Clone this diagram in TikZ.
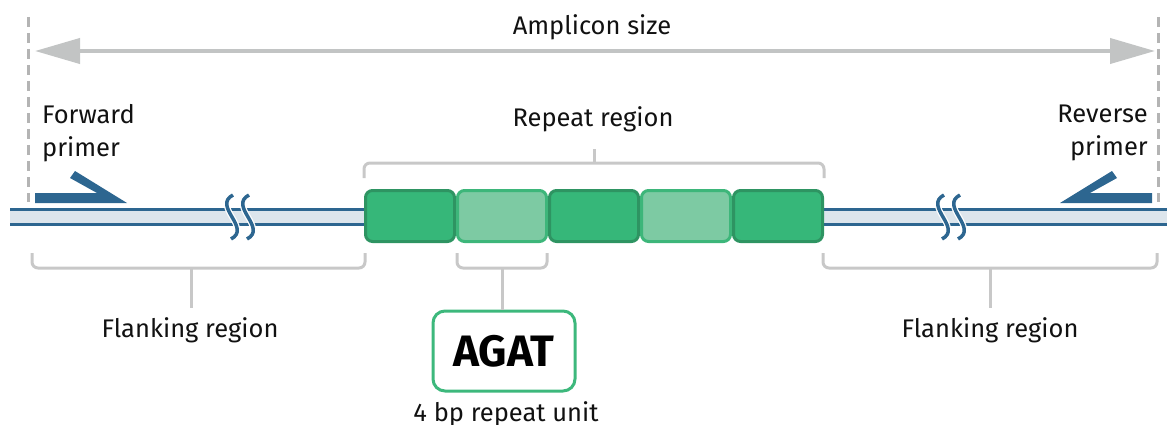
\documentclass[tikz,border=0pt]{standalone}
\usepackage{fontspec}
\setmainfont{Fira Sans}
\usetikzlibrary{arrows.meta}
\definecolor{txt}{HTML}{111111}
\definecolor{arrgray}{HTML}{C2C4C4}
\definecolor{brgray}{HTML}{C8C8C8}
\definecolor{dashgray}{HTML}{B4B4B4}
\definecolor{dnablue}{HTML}{2D6690}
\definecolor{dnafill}{HTML}{DCE5EC}
\definecolor{gdark}{HTML}{36B779}
\definecolor{gdarkb}{HTML}{2E9462}
\definecolor{glight}{HTML}{7DCAA3}
\definecolor{glightb}{HTML}{3DB67A}
\definecolor{agat}{HTML}{3DB87C}
\tikzset{
  lbl/.style={text=txt, font=\fontsize{25.5}{33}\selectfont, inner sep=0pt},
  bracket/.style={draw=brgray, line width=3pt, rounded corners=6pt},
  dashv/.style={draw=dashgray, line width=3pt, dash pattern=on 10pt off 6pt},
  dnaline/.style={draw=dnablue, line width=3pt},
  darkbox/.style={draw=gdarkb, fill=gdark, line width=3pt, rounded corners=7pt, minimum width=89pt, minimum height=51pt, inner sep=0pt},
  lightbox/.style={draw=glightb, fill=glight, line width=3pt, rounded corners=7pt, minimum width=89pt, minimum height=51pt, inner sep=0pt},
  brk/.style={draw=dnablue, line width=3.5pt},
  brkw/.style={draw=white, line width=6pt},
  primer/.style={fill=dnablue},
}
\begin{document}
\begin{tikzpicture}[x=1pt,y=-1pt]
\useasboundingbox (0,0) rectangle (1167,425);
% amplicon size
\coordinate (dlt) at (28,17);
\coordinate (dlb) at (28,202);
\coordinate (drt) at (1158,17);
\coordinate (drb) at (1158,202);
\draw[dashv] (dlt) -- (dlb);
\draw[dashv] (drt) -- (drb);
\coordinate (al) at (35,51);
\coordinate (ar) at (1155,51);
\draw[draw=arrgray, line width=4pt, {Triangle[length=45pt,width=25pt]}-{Triangle[length=45pt,width=25pt]}] (al) -- (ar);
\node[lbl] (amp) at (592,27) {Amplicon size};
% DNA
\fill[dnafill] (10,209) rectangle (365,224);
\fill[dnafill] (822,209) rectangle (1167,224);
\coordinate (l1) at (10,209); \coordinate (l2) at (365,209);
\coordinate (l3) at (10,224); \coordinate (l4) at (365,224);
\coordinate (q1) at (822,209); \coordinate (q2) at (1167,209);
\coordinate (q3) at (822,224); \coordinate (q4) at (1167,224);
\draw[dnaline] (l1) -- (l2);
\draw[dnaline] (l3) -- (l4);
\draw[dnaline] (q1) -- (q2);
\draw[dnaline] (q3) -- (q4);
% breaks
\foreach \bx in {232,248,943,959}{
  \draw[brkw] (\bx+1,195) .. controls (\bx-20,206) and (\bx+20,228) .. (\bx-1,239);
}
\foreach \bx in {232,248,943,959}{
  \draw[brk] (\bx+1,195) .. controls (\bx-20,206) and (\bx+20,228) .. (\bx-1,239);
}
% primers
\fill[primer] (35,193) -- (97,193) -- (70,178) -- (75,171) -- (127,203) -- (35,203) -- cycle;
\fill[primer] (1152,193) -- (1090,193) -- (1117,178) -- (1112,171) -- (1060,203) -- (1152,203) -- cycle;
\node[lbl, align=left, anchor=west] (fwd) at (42,133) {Forward\\primer};
\node[lbl, align=right, anchor=east] (rev) at (1148,133) {Reverse\\primer};
% repeat boxes
\node[darkbox] (r1) at (410,216) {};
\node[lightbox] (r2) at (502,216) {};
\node[darkbox] (r3) at (594,216) {};
\node[lightbox] (r4) at (686,216) {};
\node[darkbox] (r5) at (778,216) {};
% repeat bracket
\coordinate (rb1) at (364,178); \coordinate (rb2) at (824,178);
\coordinate (rs) at (594,163);
\coordinate (rt) at (594,149);
\draw[bracket] (rb1) |- (rs) -| (rb2);
\draw[draw=brgray, line width=3pt] (rs) -- (rt);
\node[lbl] (rep) at (593,119) {Repeat region};
% flanking left
\coordinate (fl1) at (32,253); \coordinate (fl2) at (365,253);
\coordinate (fl3) at (191,268); \coordinate (fl4) at (191,308);
\draw[bracket] (fl1) |- (fl3) -| (fl2);
\draw[draw=brgray, line width=3pt] (fl3) -- (fl4);
\node[lbl] (flL) at (190,330) {Flanking region};
% flanking right
\coordinate (fr1) at (823,253); \coordinate (fr2) at (1157,253);
\coordinate (fr3) at (990,268); \coordinate (fr4) at (990,308);
\draw[bracket] (fr1) |- (fr3) -| (fr2);
\draw[draw=brgray, line width=3pt] (fr3) -- (fr4);
\node[lbl] (flR) at (990,330) {Flanking region};
% unit bracket
\coordinate (u1) at (457,253); \coordinate (u2) at (547,253);
\coordinate (u3) at (502,268);
\draw[bracket] (u1) |- (u3) -| (u2);
\node[draw=agat, line width=3pt, rounded corners=12pt, minimum width=142pt, minimum height=80pt, inner sep=0pt, text=black, font=\bfseries\fontsize{44}{44}\selectfont] (ag) at (504,351) {AGAT};
\draw[draw=brgray, line width=3pt] (u3) -- (ag.north -| u3);
\node[lbl] (unit) at (506,414) {4 bp repeat unit};
\end{tikzpicture}
\end{document}
